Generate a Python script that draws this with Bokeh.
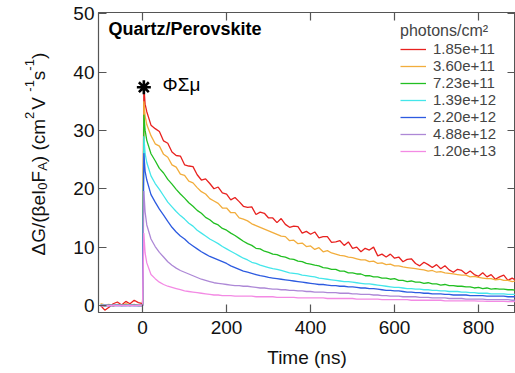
import math
from bokeh.plotting import figure
from bokeh.layouts import row
from bokeh.models import Range1d, LinearAxis, FixedTicker, Legend, LegendItem, Label
from bokeh.embed import file_html
from bokeh.resources import INLINE

# ---------------- data ----------------
time_pre = [-100, -90, -80, -70, -60, -50, -40, -30, -20, -10, 0]
time_decay = [3, 6] + list(range(10, 900, 10))
time_ns = time_pre + time_decay

series_labels = ["1.85e+11", "3.60e+11", "7.23e+11", "1.39e+12", "2.20e+12", "4.88e+12", "1.20e+13"]
series_colors = ["#e8211f", "#f2ad3c", "#22bf22", "#44e6ea", "#2d5be0", "#ad88d6", "#f38ae4"]

red_pre = [0.0, -0.8, -0.3, 0.3, 0.6, 0.1, 0.7, 0.3, 0.9, 0.5, 0.3]
red_decay = [37.6, 34.5,
             33.2, 30.9, 30.3, 29.8, 28.2, 27.8, 26.3, 25.7, 25.6, 24.1,
             23.9, 23.8, 22.4, 21.5, 21.7, 20.9, 20.0, 20.3, 19.3, 19.1,
             18.1, 18.5, 17.8, 17.0, 16.8, 16.9, 15.6, 16.0, 15.8, 15.0,
             15.0, 14.2, 14.9, 13.9, 13.4, 13.6, 13.5, 12.4, 12.7, 12.2,
             12.6, 11.6, 11.8, 11.8, 10.8, 10.9, 11.1, 10.3, 10.9, 9.8,
             10.0, 9.2, 9.8, 9.5, 10.0, 8.5, 8.8, 8.3, 8.8, 8.1,
             8.3, 7.5, 7.9, 8.0, 7.2, 6.8, 7.4, 7.0, 6.5, 7.0,
             6.3, 6.8, 6.1, 5.7, 6.2, 6.0, 5.4, 5.9, 5.3, 5.0,
             5.6, 4.9, 5.3, 4.5, 4.9, 5.2, 4.3, 4.7, 4.3]

orange_pre = [0.3, 0.1, 0.2, -0.1, 0.2, 0.0, 0.3, 0.1, 0.2, 0.0, 0.1]
orange_decay = [35.0, 32.5,
                31.0, 29.1, 27.7, 27.3, 25.9, 25.4, 24.1, 23.7, 22.5, 22.3,
                21.3, 21.0, 20.2, 19.5, 19.1, 18.3, 17.9, 17.5, 16.7, 16.7,
                15.9, 15.9, 15.0, 14.8, 14.5, 14.0, 13.7, 13.4, 13.1, 12.8,
                12.5, 12.2, 11.9, 11.8, 11.1, 11.2, 10.6, 10.7, 10.1, 10.2,
                9.6, 9.9, 9.2, 9.4, 9.0, 8.8, 8.6, 8.5, 8.3, 8.2,
                8.0, 7.8, 7.8, 7.5, 7.6, 7.2, 7.3, 7.0, 7.1, 6.8,
                6.8, 6.6, 6.5, 6.4, 6.3, 6.2, 6.1, 5.9, 6.0, 5.7,
                5.8, 5.6, 5.5, 5.4, 5.3, 5.2, 5.2, 4.9, 5.0, 4.8,
                4.7, 4.6, 4.6, 4.4, 4.5, 4.3, 4.3, 4.1, 4.2]

green_pre = [0.1, -0.1, 0.1, 0.0, 0.1, 0.0, 0.1, 0.0, 0.1, 0.0, 0.0]
green_decay = [32.7, 30.0,
               28.3, 26.0, 24.8, 23.5, 22.7, 21.6, 20.8, 19.9, 19.1, 18.4,
               17.6, 17.0, 16.3, 15.8, 15.1, 14.7, 14.1, 13.8, 13.2, 12.9,
               12.4, 12.0, 11.5, 11.0, 10.6, 10.3, 9.8, 9.7, 9.3, 9.1,
               8.8, 8.7, 8.4, 8.3, 8.0, 7.9, 7.6, 7.5, 7.2, 7.1,
               6.9, 6.8, 6.5, 6.4, 6.2, 6.2, 5.9, 5.9, 5.6, 5.6,
               5.4, 5.4, 5.1, 5.1, 4.9, 4.9, 4.7, 4.7, 4.5, 4.6,
               4.3, 4.3, 4.1, 4.2, 4.0, 4.0, 3.8, 3.9, 3.7, 3.7,
               3.5, 3.6, 3.4, 3.4, 3.3, 3.3, 3.2, 3.2, 3.0, 3.1,
               2.9, 3.0, 2.8, 2.9, 2.8, 2.8, 2.7, 2.7, 2.6]

cyan_pre = [0.0, 0.1, 0.0, 0.0, 0.1, 0.0, 0.0, 0.1, 0.0, 0.0, 0.0]
cyan_decay = [29.0, 26.0,
              24.5, 22.2, 20.9, 19.9, 18.8, 17.7, 16.9, 16.1, 15.4, 14.8,
              14.1, 13.6, 12.9, 12.4, 11.9, 11.4, 11.0, 10.6, 10.1, 9.7,
              9.3, 8.9, 8.5, 8.1, 7.8, 7.4, 7.2, 6.9, 6.7, 6.5,
              6.3, 6.2, 6.0, 5.8, 5.6, 5.5, 5.4, 5.2, 5.1, 5.0,
              4.9, 4.7, 4.6, 4.5, 4.4, 4.3, 4.2, 4.1, 4.1, 4.0,
              3.9, 3.8, 3.7, 3.7, 3.6, 3.5, 3.4, 3.3, 3.2, 3.1,
              3.1, 3.0, 2.9, 2.9, 2.8, 2.8, 2.7, 2.7, 2.6, 2.6,
              2.5, 2.5, 2.4, 2.4, 2.4, 2.3, 2.3, 2.2, 2.2, 2.1,
              2.1, 2.1, 2.0, 2.0, 2.0, 2.0, 1.9, 1.9, 1.9]

blue_pre = [0.0, 0.0, 0.0, 0.0, 0.0, 0.0, 0.0, 0.0, 0.0, 0.0, 0.0]
blue_decay = [26.1, 23.0,
              21.5, 19.0, 17.7, 16.5, 15.5, 14.4, 13.4, 12.6, 11.9, 11.4,
              10.7, 10.2, 9.7, 9.2, 8.8, 8.4, 8.1, 7.8, 7.5, 7.2,
              6.8, 6.5, 6.2, 5.9, 5.7, 5.5, 5.3, 5.1, 5.0, 4.8,
              4.7, 4.6, 4.5, 4.4, 4.3, 4.2, 4.1, 4.0, 3.9, 3.8,
              3.7, 3.6, 3.6, 3.5, 3.4, 3.4, 3.3, 3.3, 3.2, 3.2,
              3.1, 3.0, 3.0, 2.9, 2.9, 2.8, 2.7, 2.6, 2.6, 2.5,
              2.5, 2.4, 2.3, 2.3, 2.2, 2.2, 2.1, 2.1, 2.0, 2.0,
              2.0, 1.9, 1.9, 1.8, 1.8, 1.8, 1.8, 1.7, 1.7, 1.7,
              1.7, 1.6, 1.6, 1.6, 1.6, 1.6, 1.5, 1.5, 1.5]

purple_pre = [0.0, 0.0, 0.0, 0.0, 0.0, 0.0, 0.0, 0.0, 0.0, 0.0, 0.0]
purple_decay = [19.6, 16.0,
                13.8, 11.4, 10.1, 9.1, 8.3, 7.5, 6.9, 6.4, 6.0, 5.7,
                5.4, 5.1, 4.8, 4.5, 4.3, 4.1, 3.9, 3.8, 3.7, 3.6,
                3.5, 3.4, 3.4, 3.3, 3.3, 3.2, 3.1, 3.0, 3.0, 2.9,
                2.8, 2.8, 2.7, 2.7, 2.6, 2.6, 2.5, 2.5, 2.4, 2.4,
                2.3, 2.3, 2.3, 2.2, 2.2, 2.2, 2.1, 2.1, 2.1, 2.0,
                2.0, 1.9, 1.9, 1.9, 1.8, 1.8, 1.7, 1.7, 1.6, 1.6,
                1.6, 1.5, 1.5, 1.5, 1.5, 1.4, 1.4, 1.4, 1.3, 1.3,
                1.3, 1.3, 1.2, 1.2, 1.2, 1.2, 1.1, 1.1, 1.1, 1.1,
                1.1, 1.0, 1.0, 1.0, 1.0, 1.0, 1.0, 0.9, 0.9]

pink_pre = [0.0, 0.0, 0.0, 0.0, 0.0, 0.0, 0.0, 0.0, 0.0, 0.0, 0.0]
pink_decay = [12.4, 9.0,
              7.3, 5.3, 4.6, 4.0, 3.6, 3.3, 3.1, 2.9, 2.7, 2.5,
              2.4, 2.3, 2.2, 2.1, 2.0, 1.9, 1.8, 1.8, 1.7, 1.7,
              1.7, 1.6, 1.6, 1.6, 1.6, 1.6, 1.5, 1.5, 1.5, 1.5,
              1.5, 1.4, 1.4, 1.4, 1.4, 1.4, 1.3, 1.3, 1.3, 1.3,
              1.3, 1.3, 1.3, 1.2, 1.2, 1.2, 1.2, 1.2, 1.2, 1.2,
              1.1, 1.1, 1.1, 1.1, 1.1, 1.1, 1.0, 1.0, 1.0, 1.0,
              1.0, 1.0, 1.0, 0.9, 0.9, 0.9, 0.9, 0.9, 0.9, 0.9,
              0.9, 0.8, 0.8, 0.8, 0.8, 0.8, 0.8, 0.8, 0.8, 0.75,
              0.75, 0.7, 0.7, 0.7, 0.7, 0.7, 0.65, 0.65, 0.65]

series_values = [red_pre + red_decay, orange_pre + orange_decay, green_pre + green_decay,
                 cyan_pre + cyan_decay, blue_pre + blue_decay, purple_pre + purple_decay,
                 pink_pre + pink_decay]

peak_marker_t = [3]
peak_marker_v = [37.4]

x_ticks = [0, 200, 400, 600, 800]
y_ticks = [0, 10, 20, 30, 40, 50]

# ---------------- layout ----------------
FONT = "Liberation Sans"
X0, X1 = -105, 888
Y0, Y1 = -1.2, 50.2
W, H = 515, 373
LW = 60                      # width of the strip holding the y-axis title
FL, FR, FT, FB = 98, 515, 12, 312
AXC = "#555555"

p = figure(width=W - LW, height=H, output_backend="svg", toolbar_location=None,
           x_range=Range1d(X0, X1), y_range=Range1d(Y0, Y1),
           min_border_left=FL - LW, min_border_right=W - FR, min_border_top=FT,
           min_border_bottom=H - FB, x_axis_label="Time (ns)")
p.grid.visible = False
p.outline_line_color = AXC
p.background_fill_color = "white"
p.border_fill_color = None

def style_axis(ax, labels=True):
    ax.axis_line_color = AXC
    ax.axis_line_width = 1.2
    ax.major_tick_line_color = AXC
    ax.major_tick_line_width = 1.2
    ax.major_tick_in = 8
    ax.major_tick_out = 0
    ax.minor_tick_line_color = None
    if labels:
        ax.major_label_text_font = FONT
        ax.major_label_text_font_size = "19px"
        ax.major_label_text_color = "#111111"
    else:
        ax.major_label_text_font_size = "0px"
        ax.major_label_standoff = 0

xa = p.xaxis[0]
xa.ticker = FixedTicker(ticks=x_ticks)
style_axis(xa)
xa.major_label_standoff = 8
xa.axis_label_text_font = FONT
xa.axis_label_text_font_size = "19px"
xa.axis_label_text_font_style = "normal"
xa.axis_label_text_color = "#111111"
xa.axis_label_standoff = 10

ya = p.yaxis[0]
ya.ticker = FixedTicker(ticks=y_ticks)
style_axis(ya)
ya.major_label_standoff = 4

top = LinearAxis(ticker=FixedTicker(ticks=x_ticks))
style_axis(top, labels=False)
p.add_layout(top, "above")
right = LinearAxis(ticker=FixedTicker(ticks=y_ticks))
style_axis(right, labels=False)
p.add_layout(right, "right")

items = []
for lab, col, vals in zip(series_labels, series_colors, series_values):
    r = p.line(time_ns, vals, line_color=col, line_width=1.3)
    items.append(LegendItem(label=lab, renderers=[r]))

p.scatter(peak_marker_t, peak_marker_v, marker="asterisk", size=14,
          line_color="black", line_width=2.6)

legend = Legend(items=items, title="photons/cm²", location=(302, 153),
                padding=0, margin=0, spacing=0, label_height=12, glyph_height=12,
                glyph_width=26, label_standoff=7, border_line_color=None,
                background_fill_alpha=0, label_text_font=FONT,
                label_text_font_size="15px", title_text_font=FONT,
                title_text_font_size="16px", title_text_font_style="normal",
                title_standoff=0)
p.add_layout(legend)

sx = (FR - FL) / (X1 - X0)
sy = (FB - FT) / (Y1 - Y0)
def dx(px):
    return X0 + (px - FL) / sx
def dy(py):
    return Y0 + (FB - py) / sy

p.add_layout(Label(x=dx(108), y=dy(38), text="Quartz/Perovskite", text_font=FONT,
                   text_font_size="18px", text_font_style="bold", text_color="black"))
p.add_layout(Label(x=dx(162), y=dy(94), text="ΦΣμ", text_font=FONT,
                   text_font_size="19px", text_color="black"))

# ---------------- y-axis title strip ----------------
# the row aligns this strip's frame with the main frame (rows FT..FB), so the
# y range is given in "pixels from the bottom of the canvas" over that span
q = figure(width=LW, height=H, output_backend="svg", toolbar_location=None,
           x_range=Range1d(0, LW), y_range=Range1d(H - FB, H - FT),
           x_axis_type=None, y_axis_type=None, min_border=0)
q.grid.visible = False
q.outline_line_color = None
q.background_fill_color = "white"
q.border_fill_color = "white"

widths = {'Δ': 668, 'G': 778, '/': 278, '(': 333, 'β': 575, 'e': 556, 'I': 278,
          'F': 611, 'A': 667, ')': 333, ' ': 278, 'c': 500, 'm': 833, 'V': 667,
          's': 500, '0': 556, '1': 556, '2': 556, '-': 333}
pieces = [("ΔG/(βeI", "n"), ("0", "sub"), ("F", "n"), ("A", "sub"), (") (cm", "n"),
          ("2", "sup"), (" V", "n"), ("-1", "sup"), ("s", "n"), ("-1", "sup"), (")", "n")]
MAIN, SMALL = 19, 13
centre_x = {"n": 37.5, "sub": 41.5, "sup": 28.5}
pos = 255.0                  # pixel row (from top) where the title starts
for txt, kind in pieces:
    size = MAIN if kind == "n" else SMALL
    q.add_layout(Label(x=centre_x[kind], y=H - pos, text=txt, angle=math.pi / 2,
                       text_font=FONT, text_font_size=f"{size}px", text_color="#111111",
                       text_align="left", text_baseline="middle"))
    pos -= sum(widths.get(ch, 556) for ch in txt) / 1000 * size
    if kind == "sup" and txt == "2":
        pos -= 2              # a little air before " V"

layout = row(q, p, spacing=0)
open("out.html", "w").write(file_html(layout, INLINE))
